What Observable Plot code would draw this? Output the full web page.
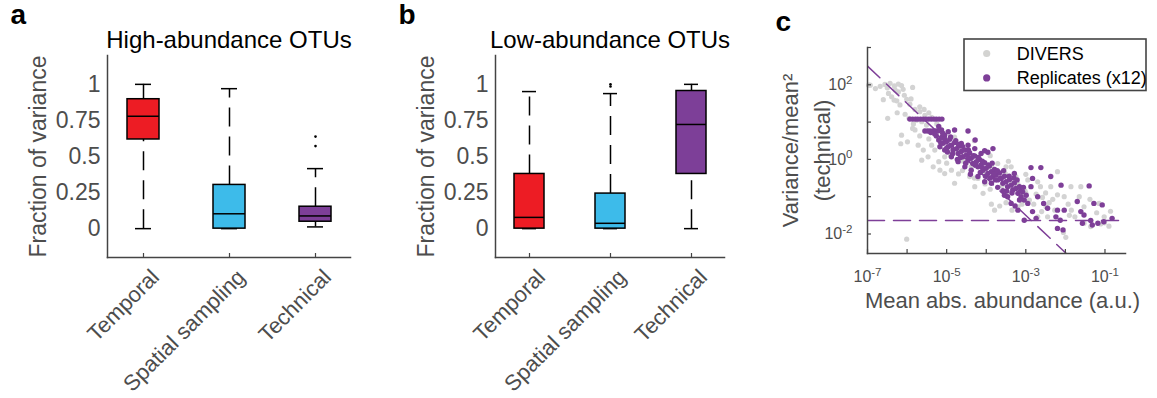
<!DOCTYPE html>
<html><head><meta charset="utf-8">
<script src="https://cdn.jsdelivr.net/npm/d3@7"></script>
<script src="https://cdn.jsdelivr.net/npm/@observablehq/plot@0.6"></script>
<style>
body{margin:0;background:#fff;}
#wrap{position:relative;width:1157px;height:398px;overflow:hidden;background:#fff;}
.panel{position:absolute;top:0;}
</style></head><body><div id="wrap"></div>
<script>
const FONT = "'Liberation Sans', Arial, Helvetica, sans-serif";
const AXIS_GRAY = "#444";
const TEXT_GRAY = "#4d4d4d";

// ---------- Panels a & b : box plots ----------
const categories = ["Temporal", "Spatial sampling", "Technical"];
const boxColors = ["#ed1c24", "#3dbbea", "#7d3f98"];
const yTicks = [0, 0.25, 0.5, 0.75, 1];

// a: High-abundance OTUs
const highLower   = [0, 0, 0.012];
const highQ1      = [0.618, 0, 0.048];
const highMedian  = [0.779, 0.103, 0.088];
const highQ3      = [0.897, 0.303, 0.152];
const highUpper   = [1.0, 0.970, 0.416];
const highOutliers = [[], [], [0.572, 0.638]];

// b: Low-abundance OTUs
const lowLower   = [0, 0, 0];
const lowQ1      = [0, 0, 0.379];
const lowMedian  = [0.078, 0.037, 0.722];
const lowQ3      = [0.379, 0.243, 0.954];
const lowUpper   = [0.950, 0.936, 1.0];
const lowOutliers = [[], [0.985, 1.0], []];

// ---------- Panel c : scatter (log10 mean abs. abundance, log10 variance/mean^2) ----------
const diversLog10 = [
[-6.93,1.99],[-6.68,1.96],[-6.56,2.01],[-6.43,2.04],[-6.32,1.97],[-6.22,2.02],[-6.14,1.98],[-5.86,1.93],
[-6.39,1.68],[-6.26,1.57],[-6.18,1.46],[-6.07,1.72],[-6.01,1.61],[-5.93,1.48],[-5.80,1.34],[-5.68,1.28],
[-5.57,1.34],[-5.45,1.25],[-6.05,1.21],[-5.95,1.10],[-5.84,0.95],[-6.14,0.65],[-5.99,0.47],[-5.80,0.79],
[-5.68,0.63],[-5.72,0.38],[-5.59,0.25],[-5.51,0.92],[-5.38,0.38],[-5.34,-0.20],[-5.20,-0.06],[-5.05,0.07],
[-4.88,-0.29],[-4.70,-0.39],[-4.59,-0.04],[-4.42,-0.46],[-4.21,-0.51],[-4.03,-0.66],[-3.87,-0.20],[-3.71,-0.11],
[-3.52,-0.38],[-3.41,-0.57],[-3.33,-0.80],[-3.20,-0.66],[-3.10,-1.00],[-3.02,-0.84],[-2.91,-1.09],[-2.80,-1.20],
[-2.74,-0.93],[-2.63,-0.73],[-2.58,-1.02],[-2.49,-1.27],[-2.41,-1.16],[-2.32,-1.07],[-2.27,-1.36],[-2.20,-0.33],
[-2.03,-1.00],[-1.93,-1.20],[-1.85,-1.36],[-1.76,-1.54],[-1.65,-1.00],[-1.53,-1.27],[-1.38,-1.07],[-1.21,-1.43],
[-1.11,-1.73],[-1.01,-1.70],[-0.90,-1.79],[-1.99,-2.09],[-2.05,-1.96],[-6.01,-2.14],[-3.79,-1.36],[-3.66,-1.25],
[-3.50,-1.16],[-3.35,-1.36],[-3.20,-1.27],[-3.87,-1.20],[-4.08,-0.91],[-4.29,-0.73],[-4.80,-0.64],[-5.05,-0.38],
[-5.17,-0.29],[-5.47,0.07],[-5.63,-0.02],[-5.30,0.25],[-4.96,0.34],[-4.71,0.21],[-4.38,-0.20],[-2.70,-1.54],
[-2.45,-1.54],[-1.53,-1.71],[-1.36,-1.80],[-1.02,-1.54],[-1.15,-1.18],[-1.61,-0.73],[-1.86,-0.73],[-2.37,-0.73],
[-2.95,-0.55],[-3.25,-0.46],[-3.37,-0.20],[-6.30,1.86],[-5.68,1.41],[-6.47,1.77],[-6.22,1.81],[-5.38,1.13],
[-5.76,1.05],[-5.63,1.01],[-6.49,1.10],[-6.16,0.42],[-5.86,0.83],[-6.33,1.59],[-6.60,1.60],[-0.86,-1.39],
[-3.44,-0.05],[-3.21,-0.75],[-4.90,0.10],[-4.50,-0.10],[-4.10,-0.35],[-3.60,-0.70],[-3.00,-0.90],[-6.97,1.99],
[-5.00,-0.10],[-4.60,-0.30],[-4.30,-0.50],[-3.90,-0.80],[-3.50,-0.95],[-3.10,-1.20],[-4.80,0.60],[-4.30,0.50],
[-3.90,0.10],[-3.50,-0.20],[-3.00,-0.40],[-2.70,-0.60],[-2.50,-0.90],[-2.20,-0.95],[-1.90,-1.50],[-2.60,-1.40],
[-6.80,1.90],[-6.50,1.92],[-6.10,1.88],[-5.90,1.62],[-5.55,1.18],[-5.25,0.95],[-6.25,1.25],[-5.45,0.55]
];
const replicatesLog10 = [
[-5.93,1.08],[-5.86,1.08],[-5.79,1.08],[-5.73,1.08],[-5.66,1.08],[-5.59,1.08],[-5.53,1.08],[-5.46,1.08],
[-5.39,1.08],[-5.32,1.08],[-5.26,1.08],[-5.19,1.08],[-5.12,1.08],
[-5.55,0.76],[-5.48,0.76],[-5.42,0.76],[-5.35,0.76],[-5.28,0.76],[-5.22,0.76],[-5.20,0.88],
[-5.26,0.63],[-5.20,0.52],[-5.13,0.59],[-5.09,0.43],[-5.05,0.65],[-5.01,0.47],[-4.96,0.34],[-4.92,0.54],
[-4.88,0.38],[-4.84,0.25],[-4.80,0.45],[-4.75,0.29],[-4.71,0.16],[-4.67,0.36],[-4.63,0.21],[-4.59,0.07],
[-4.54,0.25],[-4.50,0.12],[-4.46,-0.02],[-4.42,0.18],[-4.38,0.03],[-4.34,-0.11],[-4.29,0.09],[-4.25,-0.06],
[-4.21,-0.20],[-4.17,0.00],[-4.13,-0.15],[-4.08,-0.29],[-4.04,-0.09],[-4.00,-0.24],[-3.96,-0.38],[-3.92,-0.18],
[-3.87,-0.33],[-3.83,-0.46],[-3.79,-0.27],[-3.75,-0.42],[-3.71,-0.55],[-3.66,-0.36],[-3.62,-0.51],[-3.58,-0.64],
[-3.54,-0.45],[-3.50,-0.60],[-3.46,-0.73],[-3.41,-0.54],[-3.37,-0.69],[-3.33,-0.82],[-3.29,-0.63],[-3.25,-0.78],
[-3.20,-0.91],[-3.16,-0.73],[-3.12,-1.00],[-3.08,-0.87],[-3.04,-1.09],[-2.99,-0.96],[-2.95,-1.18],
[-4.54,-0.20],[-4.71,-0.06],[-4.88,0.07],[-4.38,-0.29],[-4.21,-0.46],[-4.04,-0.60],[-3.87,-0.64],
[-4.63,0.43],[-4.46,0.38],[-4.29,0.29],[-4.13,0.16],[-5.05,0.25],[-5.17,0.34],[-4.80,0.79],[-5.13,0.79],[-4.96,0.74],
[-4.46,0.76],[-4.28,0.52],[-4.04,0.23],[-3.83,0.29],[-3.96,0.19],[-3.29,-0.38],[-2.87,-0.22],[-2.62,-0.22],
[-2.83,-0.51],[-2.87,-0.73],[-2.70,-1.00],[-2.55,-1.18],[-2.11,-0.69],[-2.20,-1.36],[-2.13,-1.63],[-2.20,-1.85],
[-2.06,-1.89],[-1.70,-1.13],[-1.61,-1.40],[-1.53,-1.49],[-1.40,-0.71],[-1.36,-1.64],[-1.28,-1.18],[-1.18,-1.71],
[-1.07,-1.22],[-1.03,-1.67],[-0.82,-1.58],[-3.04,-1.63],[-2.83,-1.40],[-2.74,-1.58],[-3.20,-1.36],[-3.27,-1.25],
[-3.46,-1.00],[-3.58,-0.84],[-3.71,-0.75],[-3.54,-0.96],[-3.16,-1.09],[-2.45,-1.31],[-3.37,-1.18],[-2.37,-0.46],
[-2.24,-1.54],[-1.57,-1.71],[-1.32,-1.76],[-2.03,-1.36],
[-5.15,0.45],[-5.05,0.55],[-4.98,0.20],[-4.90,0.60],[-4.85,0.15],[-4.77,0.50],[-4.73,0.00],[-4.65,0.05],
[-4.60,0.35],[-4.52,-0.10],[-4.45,0.25],[-4.40,-0.40],[-4.33,0.10],[-4.27,-0.15],[-4.20,0.05],[-4.15,-0.35],
[-4.10,-0.05],[-4.02,-0.45],[-3.95,-0.15],[-3.90,-0.50],[-3.85,-0.10],[-3.77,-0.55],[-3.72,-0.30],[-3.64,-0.50],
[-3.56,-0.30],[-3.48,-0.85],[-3.42,-0.45],[-3.35,-0.90],[-3.30,-0.50],[-3.22,-0.55],[-3.14,-0.85],[-3.06,-0.75],
[-5.30,0.68],[-5.40,0.72],[-5.10,0.70],[-5.00,0.30],[-4.70,0.40],[-4.45,0.05],[-4.10,-0.22],[-3.80,-0.40]
];
// dashed guides (mean, variance/mean^2)
const poissonMean = [1e-7, 0.33];
const poissonCV2  = [316.2, 9.57e-5];
const floorMean = [1e-7, 0.33];
const floorCV2  = [0.0229, 0.0229];

const xLabelTicks = [1e-7, 1e-5, 1e-3, 1e-1];
const xMinorTicks = [1e-7, 1e-6, 1e-5, 1e-4, 1e-3, 1e-2, 1e-1];
const yLabelTicks = [1e-2, 1, 1e2];
const yMinorTicks = [1e-2, 1e-1, 1, 1e1, 1e2, 1e3];

const legendLabels = ["DIVERS", "Replicates (x12)"];
const legendColors = ["#d3d3d1", "#7e3f98"];
const scatterColors = ["#d3d3d3", "#7e3f98"];

const wrap = document.getElementById("wrap");

function boxPanel({lower, q1, median, q3, upper, outliers, title, letter, marginLeft, marginRight}) {
  const rows = categories.map((c, i) => ({cat: c, lower: lower[i], q1: q1[i], median: median[i], q3: q3[i], upper: upper[i], color: boxColors[i]}));
  const outs = categories.flatMap((c, i) => outliers[i].map(v => ({cat: c, v})));
  const line = {stroke: "black", strokeWidth: 1.5};
  return Plot.plot({
    width: 380, height: 398, marginLeft, marginRight, marginTop: 55, marginBottom: 141,
    style: {fontFamily: FONT, fontSize: "23px", color: TEXT_GRAY, background: "transparent", overflow: "visible"},
    x: {type: "band", domain: categories, paddingInner: 0.63, paddingOuter: 0.217},
    y: {domain: [-0.2, 1.2]},
    color: {type: "identity"},
    marks: [
      Plot.axisY({ticks: yTicks, tickSize: 0, tickPadding: 7, tickFormat: d => String(d), label: null, fontSize: 23}),
      Plot.axisX({tickSize: 0, tickRotate: -45, tickPadding: 16, dx: 12, label: null, fontSize: 22}),
      Plot.axisX({tickSize: 4, dy: -4, tickFormat: () => "", label: null, stroke: AXIS_GRAY, strokeWidth: 1.2}),
      Plot.frame({anchor: "left", stroke: AXIS_GRAY, strokeWidth: 1.5}),
      Plot.frame({anchor: "bottom", stroke: AXIS_GRAY, strokeWidth: 1.5}),
      Plot.ruleX(rows, {x: "cat", y1: "q3", y2: "upper", ...line, strokeDasharray: "19,10"}),
      Plot.ruleX(rows, {x: "cat", y1: "lower", y2: "q1", ...line, strokeDasharray: "19,10"}),
      Plot.tickY(rows, {x: "cat", y: "upper", insetLeft: 8, insetRight: 8, ...line}),
      Plot.tickY(rows, {x: "cat", y: "lower", insetLeft: 8, insetRight: 8, ...line}),
      Plot.barY(rows, {x: "cat", y1: "q1", y2: "q3", fill: "color", ...line}),
      Plot.tickY(rows, {x: "cat", y: "median", ...line}),
      Plot.dot(outs, {x: "cat", y: "v", r: 1.3, fill: "black"}),
      Plot.text([title], {text: d => d, frameAnchor: "top", dy: -8, lineAnchor: "bottom", fontSize: 24, fill: "black"}),
      Plot.text([letter], {text: d => d, frameAnchor: "top-left", dx: -97, dy: -32, textAnchor: "start", lineAnchor: "bottom", fontSize: 28, fontWeight: "bold", fill: "black"}),
      Plot.text(["Fraction of variance"], {text: d => d, frameAnchor: "left", dx: -62, rotate: -90, textAnchor: "middle", lineAnchor: "bottom", fontSize: 23, fill: TEXT_GRAY})
    ]
  });
}

function place(el, left) {
  const d = document.createElement("div");
  d.className = "panel"; d.style.left = left + "px";
  d.appendChild(el); wrap.appendChild(d);
}

place(boxPanel({lower: highLower, q1: highQ1, median: highMedian, q3: highQ3, upper: highUpper, outliers: highOutliers,
  title: "High-abundance OTUs", letter: "a", marginLeft: 107, marginRight: 30}), 0);
place(boxPanel({lower: lowLower, q1: lowQ1, median: lowMedian, q3: lowQ3, upper: lowUpper, outliers: lowOutliers,
  title: "Low-abundance OTUs", letter: "b", marginLeft: 115, marginRight: 36}), 380);

// panel c
const divers = diversLog10.map(([a, b]) => ({mean: 10 ** a, cv2: 10 ** b}));
const reps = replicatesLog10.map(([a, b]) => ({mean: 10 ** a, cv2: 10 ** b}));
const poisson = poissonMean.map((m, i) => ({mean: m, cv2: poissonCV2[i]}));
const floor = floorMean.map((m, i) => ({mean: m, cv2: floorCV2[i]}));
const sup = d => "10^" + Math.round(Math.log10(d));

const c = Plot.plot({
  width: 397, height: 398, marginLeft: 107, marginRight: 32, marginTop: 47, marginBottom: 145,
  style: {fontFamily: FONT, fontSize: "16px", color: TEXT_GRAY, background: "transparent", overflow: "visible"},
  x: {type: "log", domain: [1e-7, 0.33]},
  y: {type: "log", domain: [0.003, 1000]},
  marks: [
    Plot.dot(divers, {x: "mean", y: "cv2", r: 2.6, fill: scatterColors[0]}),
    Plot.dot(reps, {x: "mean", y: "cv2", r: 2.7, fill: scatterColors[1]}),
    Plot.line(poisson, {x: "mean", y: "cv2", stroke: "#7e3f98", strokeWidth: 1.5, strokeDasharray: "17,9", clip: true}),
    Plot.line(floor, {x: "mean", y: "cv2", stroke: "#7e3f98", strokeWidth: 1.5, strokeDasharray: "17,9", clip: true}),
    Plot.axisX({ticks: xLabelTicks, tickSize: 0, tickPadding: 17, tickFormat: sup, label: null, fontSize: 16}),
    Plot.axisX({ticks: xMinorTicks, tickSize: 4, dy: -4, tickFormat: () => "", label: null, stroke: AXIS_GRAY, strokeWidth: 1.2}),
    Plot.axisY({ticks: yLabelTicks, tickSize: 0, tickPadding: 15, tickFormat: sup, label: null, fontSize: 16}),
    Plot.axisY({ticks: yMinorTicks, tickSize: 4, dx: 4, tickFormat: () => "", label: null, stroke: AXIS_GRAY, strokeWidth: 1.2}),
    Plot.frame({anchor: "left", stroke: AXIS_GRAY, strokeWidth: 1.5}),
    Plot.frame({anchor: "bottom", stroke: AXIS_GRAY, strokeWidth: 1.5}),
    Plot.text(["Mean abs. abundance (a.u.)"], {text: d => d, frameAnchor: "bottom", dy: 54, dx: 6, lineAnchor: "bottom", fontSize: 22, fill: TEXT_GRAY}),
    Plot.text(["Variance/mean\u00b2\n(technical)"], {text: d => d, frameAnchor: "left", dx: -38, rotate: -90, textAnchor: "middle", lineAnchor: "bottom", lineHeight: 1.45, fontSize: 22, fill: TEXT_GRAY}),
    Plot.text(["c"], {text: d => d, frameAnchor: "top-left", dx: -92, dy: -17, textAnchor: "start", lineAnchor: "bottom", fontSize: 28, fontWeight: "bold", fill: "black"})
  ]
});
d3.select(c).selectAll("text").each(function () {
  const m = /^10\^(-?\d+)$/.exec(this.textContent);
  if (m) {
    const s = d3.select(this);
    s.text("10");
    s.append("tspan").attr("dy", "-0.55em").attr("font-size", "0.72em").text(m[1]);
  }
});
place(c, 760);

// legend (panel c)
const lg = d3.create("svg").attr("width", 186).attr("height", 56)
  .style("position", "absolute").style("left", "962px").style("top", "37px")
  .style("font-family", FONT);
lg.append("rect").attr("x", 2).attr("y", 2).attr("width", 182).attr("height", 51.5)
  .attr("fill", "white").attr("stroke", "#444").attr("stroke-width", 1.6);
legendLabels.forEach((lab, i) => {
  const cy = 16.5 + i * 24.4;
  lg.append("circle").attr("cx", 24.7).attr("cy", cy).attr("r", 3.6).attr("fill", legendColors[i]);
  lg.append("text").attr("x", 54.7).attr("y", cy + 6.3).attr("font-size", 18).attr("fill", "black").text(lab);
});
wrap.appendChild(lg.node());
</script></body></html>
